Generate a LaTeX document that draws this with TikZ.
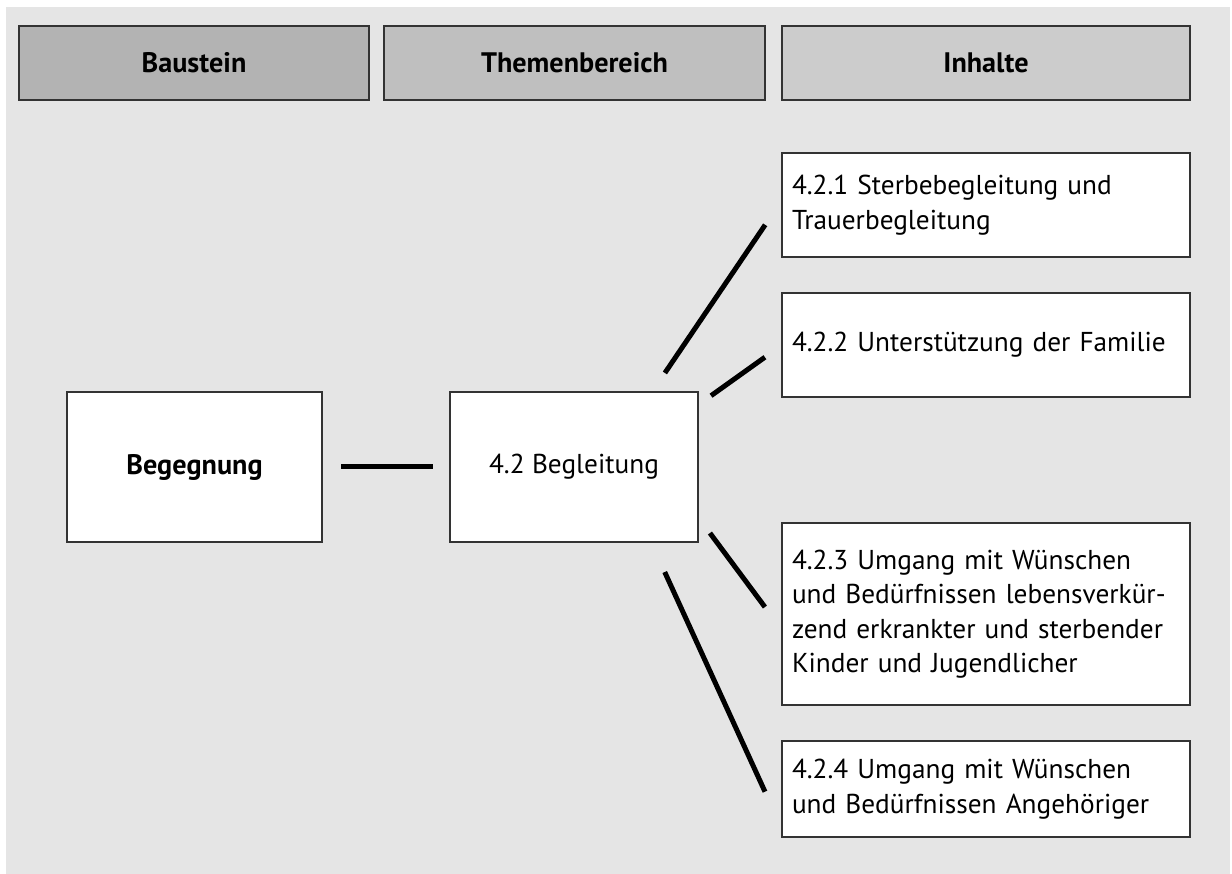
\documentclass[tikz,border=0pt]{standalone}
\usepackage{fontspec}
\setmainfont{PT Sans}
\usetikzlibrary{calc}
\definecolor{panel}{HTML}{E5E5E5}
\definecolor{headA}{HTML}{B3B3B3}
\definecolor{headB}{HTML}{BFBFBF}
\definecolor{headC}{HTML}{CCCCCC}
\definecolor{edge}{HTML}{333333}
\begin{document}
\begin{tikzpicture}[x=1pt,y=-1pt,
  box/.style={draw=edge, line width=1.2pt, fill=white, inner sep=0pt, outer sep=0pt,
    rectangle, font=\fontsize{27.3}{34.5}\selectfont},
  boldtext/.style={font=\bfseries\fontsize{28.2}{32}\selectfont},
  head/.style={box, boldtext, minimum height=74pt},
  item/.style={box, align=left, inner xsep=10pt, text width=388pt, minimum height=#1},
  conn/.style={line width=5pt, black}]
  % canvas and grey panel
  \fill[white] (0,0) rectangle (1232,874);
  \fill[panel] (6,7) rectangle (1230,874);

  % column headings
  \node[head, fill=headA, minimum width=350pt] (hBau) at (194,63) {Baustein};
  \node[head, fill=headB, minimum width=381pt] (hThe) at (574.5,63) {Themenbereich};
  \node[head, fill=headC, minimum width=408pt] (hInh) at (986,63) {Inhalte};

  % building block and topic
  \node[box, boldtext, minimum width=255pt, minimum height=150pt] (begg) at (194.5,467) {Begegnung};
  \node[box, minimum width=248pt, minimum height=150pt] (begl) at (574,467) {4.2 Begleitung};

  % contents
  \node[item=104pt] (c1) at (986,205) {4.2.1 Sterbebegleitung und\\Trauerbegleitung};
  \node[item=104pt] (c2) at (986,345) {4.2.2 Unterstützung der Familie};
  \node[item=182pt] (c3) at (986,614) {4.2.3 Umgang mit Wünschen\\und Bedürfnissen lebensverkür-\\zend erkrankter und sterbender\\Kinder und Jugendlicher};
  \node[item=96pt] (c4) at (986,789) {4.2.4 Umgang mit Wünschen\\und Bedürfnissen Angehöriger};

  % connectors
  \draw[conn, shorten <=19pt, shorten >=17pt] (begg.east) -- (begl.west);
  \draw[conn, shorten <=23pt, shorten >=30pt] ($(begl.north east)+(-46,0)$) -- ($(c1.west)+(0,-5)$);
  \draw[conn, shorten <=16pt, shorten >=21pt] ($(begl.north east)+(0,13)$) -- (c2.west);
  \draw[conn, shorten <=20pt, shorten >=28.6pt] ($(begl.east)+(0,50)$) -- ($(c3.west)+(0,16)$);
  \draw[conn, shorten <=33pt, shorten >=41pt] ($(begl.south east)+(-47,0)$) -- ($(c4.west)+(0,40)$);
\end{tikzpicture}
\end{document}
